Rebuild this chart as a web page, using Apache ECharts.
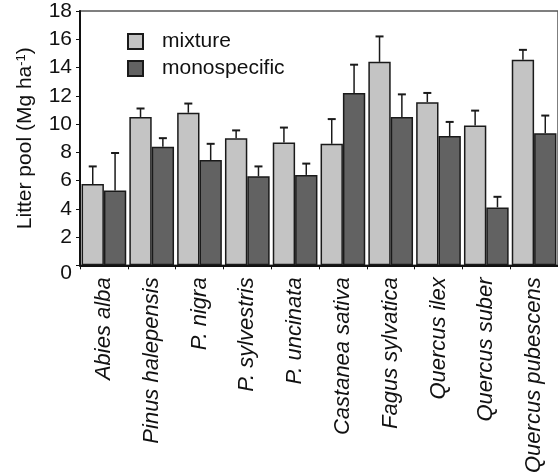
<!DOCTYPE html>
<html>
<head>
<meta charset="utf-8">
<script src="https://cdn.jsdelivr.net/npm/echarts@6/dist/echarts.min.js"></script>
<style>html,body{margin:0;padding:0;background:#fff}#c{width:558px;height:476px}</style>
</head>
<body>
<div id="c"></div>
<script>
const categories = ['Abies alba','Pinus halepensis','P. nigra','P. sylvestris','P. uncinata','Castanea sativa','Fagus sylvatica','Quercus ilex','Quercus suber','Quercus pubescens'];
const mixture = [5.75, 10.5, 10.8, 9.0, 8.7, 8.6, 14.4, 11.55, 9.9, 14.55];
const mixtureErr = [1.25, 0.6, 0.65, 0.55, 1.05, 1.75, 1.8, 0.65, 1.05, 0.7];
const mono = [5.3, 8.4, 7.45, 6.3, 6.4, 12.2, 10.5, 9.15, 4.1, 9.35];
const monoErr = [2.65, 0.6, 1.15, 0.7, 0.8, 2.0, 1.6, 1.0, 0.75, 1.25];
const yTicks = [0, 2, 4, 6, 8, 10, 12, 14, 16, 18];

const FONT = "'Liberation Sans', Arial, sans-serif";
const CAT_GAP = 0.065;

function errSeries(vals, errs, side) {
  return {
    type: 'custom',
    z: 5,
    silent: true,
    data: vals.map((v, i) => [i, v, v + errs[i]]),
    renderItem: function (params, api) {
      const i = api.value(0);
      const bandW = api.size([1, 0])[0];
      const bw = bandW * (1 - CAT_GAP) / 2;
      const base = api.coord([i, api.value(1)]);
      const top = api.coord([i, api.value(2)]);
      const x = base[0] + side * bw / 2;
      const cap = 4;
      return {
        type: 'group',
        children: [
          { type: 'line', shape: { x1: x, y1: base[1], x2: x, y2: top[1] }, style: { stroke: '#1a1a1a', lineWidth: 1.5 } },
          { type: 'line', shape: { x1: x - cap, y1: top[1], x2: x + cap, y2: top[1] }, style: { stroke: '#1a1a1a', lineWidth: 2 } }
        ]
      };
    }
  };
}

const chart = echarts.init(document.getElementById('c'), null, { renderer: 'canvas' });
chart.setOption({
  animation: false,
  textStyle: { fontFamily: FONT },
  grid: { left: 80, top: 11, width: 481, height: 257, show: true, borderColor: '#555', borderWidth: 1.5, backgroundColor: 'transparent' },
  legend: {
    left: 122, top: 26, orient: 'vertical', itemWidth: 15, itemHeight: 15, itemGap: 6,
    icon: 'rect',
    textStyle: { fontSize: 21, color: '#111', fontFamily: FONT, padding: [0, 0, 0, 14] },
    data: ['mixture', 'monospecific']
  },
  xAxis: {
    type: 'category',
    data: categories,
    axisLine: { lineStyle: { color: '#111', width: 2 } },
    axisTick: { show: true, length: 4, lineStyle: { color: '#111' } },
    axisLabel: { rotate: 90, fontStyle: 'italic', fontSize: 22, color: '#111', margin: 12, interval: 0, fontFamily: FONT, padding: [0, 0, 4, 0] }
  },
  yAxis: {
    type: 'value', min: yTicks[0], max: yTicks[yTicks.length - 1], interval: 2,
    name: 'Litter pool (Mg ha{sup|-1})',
    nameLocation: 'middle', nameRotate: 90, nameGap: 44,
    nameTextStyle: { fontSize: 21, color: '#111', fontFamily: FONT,
      rich: { sup: { fontSize: 13, verticalAlign: 'top', color: '#111', fontFamily: FONT } } },
    axisLine: { show: true, lineStyle: { color: '#111', width: 2 } },
    axisTick: { show: true, length: 4, lineStyle: { color: '#111' } },
    splitLine: { show: false },
    axisLabel: { fontSize: 21, color: '#111', margin: 8, fontFamily: FONT,
      formatter: v => v === 0 ? '{z|0}' : String(v),
      rich: { z: { fontSize: 21, color: '#111', padding: [16, 0, 0, 0], fontFamily: FONT } } }
  },
  series: [
    { name: 'mixture', type: 'bar', data: mixture, barGap: '0%', barCategoryGap: (CAT_GAP * 100) + '%',
      itemStyle: { color: '#c4c4c4', borderColor: '#1a1a1a', borderWidth: 1.5 } },
    { name: 'monospecific', type: 'bar', data: mono, barGap: '0%', barCategoryGap: (CAT_GAP * 100) + '%',
      itemStyle: { color: '#626262', borderColor: '#1a1a1a', borderWidth: 1.5 } },
    errSeries(mixture, mixtureErr, -1),
    errSeries(mono, monoErr, 1)
  ]
});
</script>
</body>
</html>
